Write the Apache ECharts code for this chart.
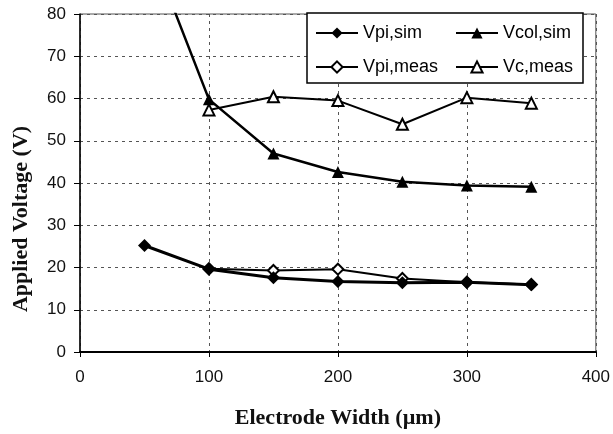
<!DOCTYPE html>
<html>
<head>
<meta charset="utf-8">
<script src="https://cdn.jsdelivr.net/npm/echarts@6/dist/echarts.min.js"></script>
<style>
  html, body { margin: 0; padding: 0; background: #fff; }
  #chart { width: 613px; height: 434px; }
</style>
</head>
<body>
<div id="chart"></div>
<script>
const widths = [50, 100, 150, 200, 250, 300, 350];
const vpiSim = [25.2, 19.6, 17.6, 16.7, 16.4, 16.5, 15.9];
const vcolSim = [99, 59.8, 47.0, 42.6, 40.3, 39.4, 39.1];
const vpiMeas = [null, 19.7, 19.3, 19.6, 17.4, 16.5, 16.0];
const vcMeas = [null, 57.3, 60.4, 59.5, 53.9, 60.2, 58.9];

function pairs(ys) {
    return widths.map((x, i) => [x, ys[i]]).filter(p => p[1] !== null);
}

const chart = echarts.init(document.getElementById('chart'));

const tickFont = { fontFamily: 'Liberation Sans', fontSize: 17, color: '#111' };
const titleFont = { fontFamily: 'Liberation Serif', fontWeight: 'bold', fontSize: 22, color: '#111' };
const gridLine = { show: true, lineStyle: { color: '#555', width: 1, type: [3, 4] } };

chart.setOption({
    animation: false,
    backgroundColor: '#fff',
    grid: {
        left: 80, right: 16, top: 14, bottom: 72,
        show: true, borderColor: '#555', borderWidth: 1
    },
    xAxis: {
        type: 'value',
        min: 0, max: 400, interval: 100,
        name: 'Electrode Width (\u00b5m)',
        nameLocation: 'middle',
        nameGap: 55,
        nameTextStyle: titleFont,
        axisLine: { show: true, lineStyle: { color: '#000', width: 2 } },
        axisTick: { show: true, length: 5, lineStyle: { color: '#000' } },
        axisLabel: Object.assign({ margin: 17 }, tickFont),
        splitLine: gridLine
    },
    yAxis: {
        type: 'value',
        min: 0, max: 80, interval: 10,
        name: 'Applied Voltage (V)',
        nameLocation: 'middle',
        nameGap: 48,
        nameTextStyle: Object.assign({ padding: [0, 72, 0, 0] }, titleFont),
        axisLine: { show: true, lineStyle: { color: '#000', width: 1.5 } },
        axisTick: { show: true, length: 6, lineStyle: { color: '#000' } },
        axisLabel: Object.assign({ margin: 14 }, tickFont),
        splitLine: gridLine
    },
    graphic: [{
        type: 'rect',
        z: 5,
        shape: { x: 307, y: 13, width: 276, height: 70 },
        style: { fill: '#fff', stroke: '#000', lineWidth: 1.5 }
    }],
    legend: [{
        data: ['Vpi,sim', 'Vpi,meas'],
        orient: 'vertical',
        left: 315, top: 24,
        padding: 0,
        itemWidth: 42, itemHeight: 14, itemGap: 16,
        z: 6,
        textStyle: { fontFamily: 'Liberation Sans', fontSize: 18, color: '#000' }
    }, {
        data: ['Vcol,sim', 'Vc,meas'],
        orient: 'vertical',
        left: 455, top: 24,
        padding: 0,
        itemWidth: 42, itemHeight: 14, itemGap: 16,
        z: 6,
        textStyle: { fontFamily: 'Liberation Sans', fontSize: 18, color: '#000' }
    }],
    series: [
        {
            name: 'Vpi,sim',
            type: 'line',
            z: 4,
            data: pairs(vpiSim),
            symbol: 'diamond', symbolSize: 13,
            color: '#000',
            lineStyle: { color: '#000', width: 3 },
            itemStyle: { color: '#000' }
        },
        {
            name: 'Vcol,sim',
            type: 'line',
            z: 4,
            data: pairs(vcolSim),
            symbol: 'triangle', symbolSize: 12,
            color: '#000',
            lineStyle: { color: '#000', width: 2.5 },
            itemStyle: { color: '#000' }
        },
        {
            name: 'Vpi,meas',
            type: 'line',
            z: 3,
            data: pairs(vpiMeas),
            symbol: 'emptyDiamond', symbolSize: 11,
            color: '#000',
            lineStyle: { color: '#000', width: 2 },
            itemStyle: { color: '#000', borderWidth: 2 }
        },
        {
            name: 'Vc,meas',
            type: 'line',
            z: 3,
            data: pairs(vcMeas),
            symbol: 'emptyTriangle', symbolSize: 11,
            color: '#000',
            lineStyle: { color: '#000', width: 2 },
            itemStyle: { color: '#000', borderWidth: 2 }
        }
    ]
});
</script>
</body>
</html>
